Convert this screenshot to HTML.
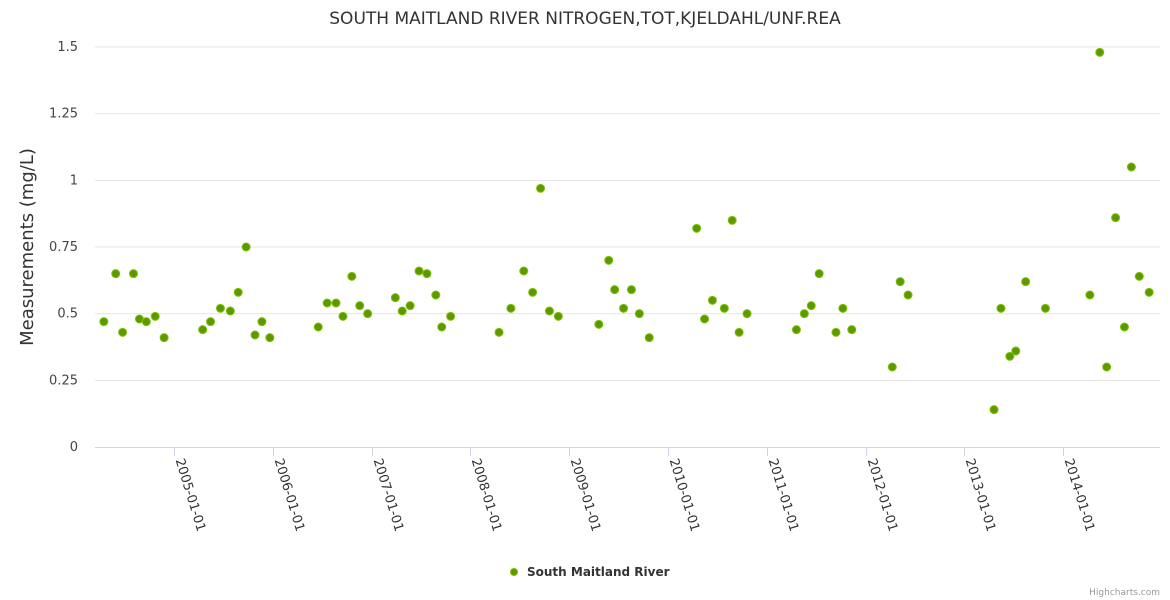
<!DOCTYPE html>
<html><head><meta charset="utf-8"><style>
body{margin:0;background:#fff;}
svg{display:block;font-family:"DejaVu Sans","Liberation Sans",sans-serif;}
</style></head><body>
<svg id="chart" width="1170" height="600">
<text x="585" y="24" text-anchor="middle" font-size="17" fill="#333">SOUTH MAITLAND RIVER NITROGEN,TOT,KJELDAHL/UNF.REA</text>
<text transform="translate(33,247) rotate(-90)" text-anchor="middle" font-size="18" fill="#333">Measurements (mg/L)</text>
<g id="grid"></g><g id="xaxis"></g><g id="pts"></g>
<g>
<circle cx="514" cy="572" r="3.5" fill="#5a9a00" stroke="#80c000" stroke-width="1"></circle>
<text x="527" y="576" font-size="12" font-weight="bold" fill="#333">South Maitland River</text>
</g>
<text x="1160" y="595" text-anchor="end" font-size="9" fill="#999">Highcharts.com</text>
</svg>
<script>
const dates=[2004.29,2004.41,2004.48,2004.59,2004.65,2004.72,2004.81,2004.90,2005.29,2005.37,2005.47,2005.57,2005.65,2005.73,2005.82,2005.89,2005.97,2006.46,2006.55,2006.64,2006.71,2006.80,2006.88,2006.96,2007.24,2007.31,2007.39,2007.48,2007.56,2007.65,2007.71,2007.80,2008.29,2008.41,2008.54,2008.63,2008.71,2008.80,2008.89,2009.30,2009.40,2009.46,2009.55,2009.63,2009.71,2009.81,2010.29,2010.37,2010.45,2010.57,2010.65,2010.72,2010.80,2011.30,2011.38,2011.45,2011.53,2011.70,2011.77,2011.86,2012.27,2012.35,2012.43,2013.30,2013.37,2013.46,2013.52,2013.62,2013.82,2014.27,2014.37,2014.44,2014.53,2014.62,2014.69,2014.77,2014.87];
const values=[0.47,0.65,0.43,0.65,0.48,0.47,0.49,0.41,0.44,0.47,0.52,0.51,0.58,0.75,0.42,0.47,0.41,0.45,0.54,0.54,0.49,0.64,0.53,0.50,0.56,0.51,0.53,0.66,0.65,0.57,0.45,0.49,0.43,0.52,0.66,0.58,0.97,0.51,0.49,0.46,0.70,0.59,0.52,0.59,0.50,0.41,0.82,0.48,0.55,0.52,0.85,0.43,0.50,0.44,0.50,0.53,0.65,0.43,0.52,0.44,0.30,0.62,0.57,0.14,0.52,0.34,0.36,0.62,0.52,0.57,1.48,0.30,0.86,0.45,1.05,0.64,0.58];
const yTicks=[0,0.25,0.5,0.75,1,1.25,1.5];
const yTickLabels=["0","0.25","0.5","0.75","1","1.25","1.5"];
const xTicks=[2005,2006,2007,2008,2009,2010,2011,2012,2013,2014];
const xTickLabels=["2005-01-01","2006-01-01","2007-01-01","2008-01-01","2009-01-01","2010-01-01","2011-01-01","2012-01-01","2013-01-01","2014-01-01"];
const NS="http://www.w3.org/2000/svg";
const X=d=>174+(d-2005)*98.8;
const Y=v=>447-v*(400/1.5);
function mk(t,a,p){const e=document.createElementNS(NS,t);for(const k in a)e.setAttribute(k,a[k]);p.appendChild(e);return e;}
const g=document.getElementById('grid'),xa=document.getElementById('xaxis'),pts=document.getElementById('pts');
yTicks.forEach((v,i)=>{
 if(v>0){const l=mk('line',{x1:95,x2:1160,y1:Y(v),y2:Y(v),stroke:'#e6e6e6'},g);
 
 }
 const t=mk('text',{x:78,y:Y(v)+4,'text-anchor':'end','font-size':13,fill:'#444'},g);
 
 
 t.textContent=yTickLabels[i];
});
const ax=mk('line',{x1:95,x2:1160,y1:447.5,y2:447.5,stroke:'#ccd6eb'},xa);


xTicks.forEach((d,i)=>{
 const x=Math.round(X(d))+0.5;
 const tk=mk('line',{x1:x,x2:x,y1:447,y2:456,stroke:'#ccd6eb'},xa);
 
 
 const t=mk('text',{transform:`translate(${x+1},460) rotate(73)`,'font-size':13,fill:'#333'},xa);
 
 
 t.textContent=xTickLabels[i];
});
dates.forEach((d,i)=>{
 const c=mk('circle',{cx:X(d),cy:Y(values[i]),r:4,fill:'#5a9a00',stroke:'#80c000','stroke-width':1},pts);
 
 
});
</script>
</body></html>
